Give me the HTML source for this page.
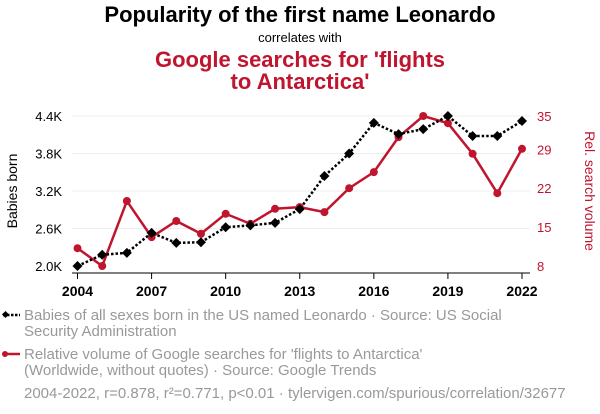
<!DOCTYPE html>
<html><head><meta charset="utf-8"><style>
body{margin:0;background:#fff;}
svg{display:block;font-family:"Liberation Sans",sans-serif;}
</style></head><body>
<svg id="chart" width="600" height="414" viewBox="0 0 600 414">
<text x="300" y="22" text-anchor="middle" font-size="22" font-weight="bold" fill="#000">Popularity of the first name Leonardo</text>
<text x="300" y="42" text-anchor="middle" font-size="13" fill="#000">correlates with</text>
<text x="300" y="67" text-anchor="middle" font-size="22" font-weight="bold" fill="#c0152f">Google searches for 'flights</text>
<text x="300" y="89" text-anchor="middle" font-size="22" font-weight="bold" fill="#c0152f">to Antarctica'</text>
<g id="grid"></g>
<g id="axes"></g>
<g id="series"></g>
<text transform="translate(17,191) rotate(-90)" text-anchor="middle" font-size="14" fill="#000">Babies born</text>
<text transform="translate(585,191) rotate(90)" text-anchor="middle" font-size="14" fill="#c0152f">Rel. search volume</text>
<g>
<line x1="3" y1="315" x2="20" y2="315" stroke="#000" stroke-width="2.5" stroke-dasharray="2.5,1.5"/>
<rect x="3" y="312" width="5" height="5" transform="rotate(45 5.5 314.5)" fill="#000"/>
<text x="24" y="320" font-size="15" fill="#999">Babies of all sexes born in the US named Leonardo · Source: US Social</text>
<text x="24" y="336" font-size="15" fill="#999">Security Administration</text>
</g>
<g>
<line x1="3" y1="354" x2="20" y2="354" stroke="#c0152f" stroke-width="2.5"/>
<circle cx="5" cy="354" r="3" fill="#c0152f"/>
<text x="24" y="359" font-size="15" fill="#999">Relative volume of Google searches for 'flights to Antarctica'</text>
<text x="24" y="375" font-size="15" fill="#999">(Worldwide, without quotes) · Source: Google Trends</text>
</g>
<text x="24" y="398" font-size="15" fill="#999">2004-2022, r=0.878, r²=0.771, p&lt;0.01 · tylervigen.com/spurious/correlation/32677</text>
</svg>
<script>
const years=[2004,2005,2006,2007,2008,2009,2010,2011,2012,2013,2014,2015,2016,2017,2018,2019,2020,2021,2022];
const babies=[2000,2180,2210,2530,2370,2380,2620,2650,2690,2910,3440,3800,4290,4110,4190,4400,4080,4080,4320];
const searches=[11.2,8.0,19.7,13.2,16.1,13.8,17.4,15.6,18.3,18.6,17.7,22.0,24.9,31.2,35,33.7,28.2,21.1,29.1];
const leftTicks=[2000,2600,3200,3800,4400];
const leftTickLabels=["2.0K","2.6K","3.2K","3.8K","4.4K"];
const rightTicks=[8,15,22,29,35];
const xTicks=[2004,2007,2010,2013,2016,2019,2022];
const NS="http://www.w3.org/2000/svg";
const xS=y=>77.5+(y-2004)*(522-77.5)/18;
const yL=v=>266-(v-2000)*150/2400;
const yR=v=>266-(v-8)*150/27;
function mk(tag,attrs,parent){const e=document.createElementNS(NS,tag);for(const k in attrs)e.setAttribute(k,attrs[k]);parent.appendChild(e);return e;}
const grid=document.getElementById('grid'),axes=document.getElementById('axes'),ser=document.getElementById('series');
leftTicks.forEach((t,i)=>{
  const y=yL(t);
  if(i>0){const g=mk('line',{x1:72,x2:530,y1:y,y2:y,stroke:'#eee','stroke-width':1},grid);
  
  }
  const tx=mk('text',{x:62,y:y+5,'text-anchor':'end','font-size':13,fill:'#000'},axes);
  tx.textContent=leftTickLabels[i];
  
  
});
rightTicks.forEach(t=>{
  const tx=mk('text',{x:537,y:yR(t)+5,'font-size':13,fill:'#c0152f'},axes);
  tx.textContent=t;
  
  
});
const ax=mk('line',{x1:72,x2:530,y1:273,y2:273,stroke:'#000','stroke-width':1},axes);


xTicks.forEach(t=>{
  const x=xS(t);
  mk('line',{x1:x,x2:x,y1:273,y2:279,stroke:'#000'},axes);
  const tx=mk('text',{x:x,y:296,'text-anchor':'middle','font-size':14,'font-weight':'bold',fill:'#000'},axes);
  tx.textContent=t;
  
  
});
const rl=mk('polyline',{points:years.map((y,i)=>xS(y)+','+yR(searches[i])).join(' '),fill:'none',stroke:'#c0152f','stroke-width':2.5},ser);


years.forEach((y,i)=>{
  const c=mk('circle',{cx:xS(y),cy:yR(searches[i]),r:4,fill:'#c0152f'},ser);
  
  
});
const bl=mk('polyline',{points:years.map((y,i)=>xS(y)+','+yL(babies[i])).join(' '),fill:'none',stroke:'#000','stroke-width':2.5,'stroke-dasharray':'2.5,2'},ser);


years.forEach((y,i)=>{
  const x=xS(y),yy=yL(babies[i]);
  const d=mk('path',{d:`M${x},${yy-5}L${x+5},${yy}L${x},${yy+5}L${x-5},${yy}Z`,fill:'#000'},ser);
  
  
});
</script>
</body></html>
